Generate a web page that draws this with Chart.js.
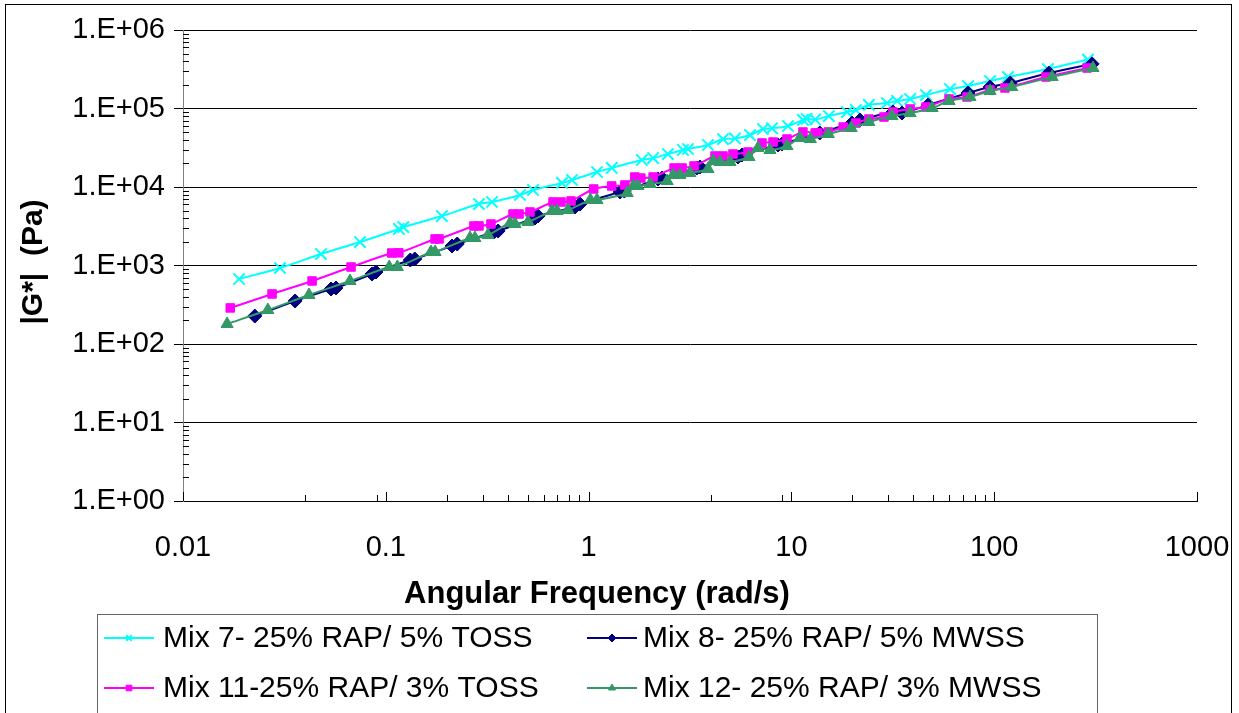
<!DOCTYPE html>
<html>
<head>
<meta charset="utf-8">
<script src="https://cdn.jsdelivr.net/npm/chart.js@4.4.0/dist/chart.umd.min.js"></script>
<style>
  html, body { margin: 0; padding: 0; background: #fff; }
  #wrap { position: relative; width: 1239px; height: 713px; overflow: hidden; }
  #frame { position: absolute; left: 5px; top: 4px; width: 1225px; height: 730px; border: 1px solid #000; }
  #c { position: absolute; left: 0; top: 0; }
</style>
</head>
<body>
<div id="wrap">
  <div id="frame"></div>
  <canvas id="c" width="1239" height="713"></canvas>
</div>
<script>
/* === DATA === */
const seriesNames = [
  "Mix 7- 25% RAP/ 5% TOSS",
  "Mix 8- 25% RAP/ 5% MWSS",
  "Mix 11-25% RAP/ 3% TOSS",
  "Mix 12- 25% RAP/ 3% MWSS"
];

const freq7 = [0.0189, 0.0301, 0.0479, 0.0746, 0.116, 0.122, 0.189, 0.288, 0.334, 0.459, 0.532, 0.739, 0.828,
  1.10, 1.30, 1.83, 2.08, 2.46, 2.92, 3.09, 3.88, 4.60, 5.27, 6.25, 7.24, 8.02, 9.62,
  11.4, 11.9, 13.1, 15.3, 18.8, 20.8, 24.1, 29.6, 33.2, 38.5, 46.1, 60.5, 74.3, 95.4, 117, 184, 290];
const g7 = [673, 929, 1400, 1990, 2920, 3090, 4270, 6070, 6440, 7910, 9160, 11250, 12280,
  15530, 17470, 22080, 23400, 26310, 29600, 30480, 34270, 40860, 41500, 45940, 54810, 56000, 59840,
  71400, 73500, 72500, 80200, 90200, 95700, 110900, 117500, 124700, 132100, 148500, 177100, 193500, 224100, 251800, 318600, 420000];

const freq8 = [0.0226, 0.0357, 0.0537, 0.0568, 0.0855, 0.0895, 0.132, 0.139, 0.212, 0.225, 0.342, 0.358, 0.544, 0.563,
  0.857, 0.907, 1.43, 1.50, 2.20, 2.30, 3.42, 3.54, 5.45, 5.71, 8.59, 8.99,
  13.8, 19.9, 21.8, 31.7, 35.1, 47.2, 74.3, 95.4, 120, 186, 304];
const g8 = [227, 353, 502, 517, 779, 826, 1175, 1210, 1771, 1878, 2672, 2752, 4028, 4273,
  5560, 6070, 8630, 8890, 12650, 13020, 17470, 17990, 24100, 25560, 34270, 35290,
  48800, 65300, 71400, 90200, 87500, 110900, 157500, 187800, 211300, 283300, 370000];

const freq11 = [0.0171, 0.0275, 0.0433, 0.0674, 0.107, 0.116, 0.175, 0.183, 0.272, 0.288, 0.330, 0.424, 0.454, 0.514,
  0.668, 0.731, 0.819, 1.06, 1.30, 1.51, 1.69, 1.81, 2.08, 2.64, 2.89, 3.31, 4.20, 4.60, 5.15, 6.11, 7.16, 8.12, 9.51,
  11.4, 13.1, 13.5, 15.2, 18.0, 20.8, 24.1, 28.6, 31.7, 38.5, 46.1, 59.9, 73.5, 95.4, 113, 180, 287];
const g11 = [288, 434, 635, 957, 1443, 1450, 2176, 2180, 3186, 3190, 3378, 4530, 4530, 4805,
  6441, 6441, 6633, 9432, 10300, 10600, 13410, 13000, 13410, 17470, 17470, 18530, 24830, 24830, 26310, 27920, 36360, 37410, 40860,
  50200, 48800, 48800, 50200, 58100, 65300, 73500, 77900, 90200, 98600, 104500, 132100, 140100, 172100, 182500, 251800, 328000];

const freq12 = [0.0165, 0.0262, 0.0418, 0.0666, 0.104, 0.114, 0.167, 0.175, 0.260, 0.275, 0.319, 0.410, 0.434, 0.503,
  0.660, 0.699, 0.791, 1.02, 1.10, 1.55, 1.66, 1.75, 2.01, 2.44, 2.61, 2.82, 3.16, 3.88, 4.11, 4.45, 4.98,
  6.18, 6.84, 7.84, 9.51, 11.0, 12.4, 15.2, 19.7, 24.1, 31.3, 38.5, 49.4, 59.9, 76.0, 95.4, 122, 193, 307];
const g12 = [180, 271, 421, 635, 957, 957, 1486, 1486, 2240, 2240, 2446, 3478, 3378, 3583,
  4947, 4947, 5095, 6830, 6830, 8390, 10300, 10300, 10920, 11920, 14220, 14220, 15060, 16950, 21430, 20800, 20800,
  24100, 31400, 29600, 33240, 42100, 40860, 47320, 56460, 67300, 80200, 87500, 101500, 124700, 140100, 167000, 187800, 251800, 328000];

const xTicks = [0.01, 0.1, 1, 10, 100, 1000];
const xTickLabels = ["0.01", "0.1", "1", "10", "100", "1000"];
const yTicks = [1, 10, 100, 1000, 10000, 100000, 1000000];
const yTickLabels = ["1.E+00", "1.E+01", "1.E+02", "1.E+03", "1.E+04", "1.E+05", "1.E+06"];

const xTitle = "Angular Frequency (rad/s)";
const yTitle = "|G*|  (Pa)";

/* === HELPERS === */
const FONT = "'Liberation Sans', Arial, sans-serif";

function toPoints(xs, ys) {
  return xs.map((x, i) => ({ x: x, y: ys[i] }));
}

function makeSet(idx, xs, ys, color, style, radius, bw, order) {
  return {
    label: seriesNames[idx],
    data: toPoints(xs, ys),
    showLine: true,
    borderColor: color,
    backgroundColor: color,
    borderWidth: 2,
    tension: 0.3,
    pointStyle: style,
    pointRadius: radius,
    pointHoverRadius: radius,
    pointBorderWidth: bw,
    pointBorderColor: color,
    pointBackgroundColor: color,
    order: order
  };
}

// Mix 7, Mix 8, Mix 11, Mix 12 (legend reads row by row)
const datasets = [
  makeSet(0, freq7, g7, "#00FFFF", "crossRot", 8, 2, 4),
  makeSet(1, freq8, g8, "#000080", "rectRot", 7, 1, 3),
  makeSet(2, freq11, g11, "#FF00FF", "rect", 6, 1, 2),
  makeSet(3, freq12, g12, "#339966", "triangle", 7, 1, 1)
];

/* === EXTRA DRAWING: minor ticks, titles, legend box === */
const decorPlugin = {
  id: "decor",
  beforeDatasetsDraw(chart) {
    const ctx = chart.ctx;
    const xs = chart.scales.x, ys = chart.scales.y;
    const left = chart.chartArea.left, bottom = chart.chartArea.bottom;
    ctx.save();
    ctx.strokeStyle = "#000";
    ctx.lineWidth = 1;
    ctx.beginPath();
    // y minor ticks, inside the plot
    for (let d = 1; d < 1e6; d *= 10) {
      for (let k = 2; k <= 9; k++) {
        const py = Math.round(ys.getPixelForValue(k * d)) + 0.5;
        ctx.moveTo(left, py);
        ctx.lineTo(left + 6, py);
      }
    }
    // x major ticks, inside the plot
    xTicks.forEach(v => {
      const px = Math.round(xs.getPixelForValue(v)) + 0.5;
      ctx.moveTo(px, bottom);
      ctx.lineTo(px, bottom - 9);
    });
    // x minor ticks
    [0.04, 0.09, 0.2, 0.3, 0.4, 0.5, 0.6, 0.7, 0.8, 0.9, 4, 9, 20, 30, 40, 50, 60, 70, 80, 90].forEach(v => {
      const px = Math.round(xs.getPixelForValue(v)) + 0.5;
      ctx.moveTo(px, bottom);
      ctx.lineTo(px, bottom - 6);
    });
    ctx.stroke();
    ctx.restore();
  },
  afterDraw(chart) {
    const ctx = chart.ctx;
    ctx.save();
    ctx.fillStyle = "#000";

    // axis titles
    ctx.font = "bold 31px " + FONT;
    ctx.textAlign = "center";
    ctx.textBaseline = "middle";
    ctx.fillText(xTitle, 597, 594);

    ctx.translate(34, 262);
    ctx.rotate(-Math.PI / 2);
    ctx.font = "bold 30px " + FONT;
    ctx.fillText(yTitle, 0, 0);
    ctx.setTransform(1, 0, 0, 1, 0, 0);

    // legend box
    ctx.strokeStyle = "#666";
    ctx.lineWidth = 1;
    ctx.strokeRect(97.5, 614.5, 1000, 140);

    const slots = [
      { lx: 104, tx: 163, y: 638 },
      { lx: 587, tx: 643, y: 638 },
      { lx: 104, tx: 163, y: 688 },
      { lx: 587, tx: 643, y: 688 }
    ];
    ctx.font = "30px " + FONT;
    ctx.textAlign = "left";
    ctx.textBaseline = "middle";
    datasets.forEach((ds, i) => {
      const s = slots[i];
      ctx.strokeStyle = ds.borderColor;
      ctx.fillStyle = ds.borderColor;
      ctx.lineWidth = 2;
      ctx.beginPath();
      ctx.moveTo(s.lx, s.y);
      ctx.lineTo(s.lx + 50, s.y);
      ctx.stroke();
      ctx.lineWidth = ds.pointBorderWidth;
      Chart.helpers.drawPoint(ctx, { pointStyle: ds.pointStyle, radius: 4, rotation: 0, borderWidth: ds.pointBorderWidth }, s.lx + 25, s.y);
      ctx.fillStyle = "#000";
      ctx.fillText(ds.label, s.tx, s.y + 1);
    });
    ctx.restore();
  }
};

/* === CHART === */
const ctx = document.getElementById("c").getContext("2d");
new Chart(ctx, {
  type: "scatter",
  data: { datasets: datasets },
  options: {
    responsive: false,
    animation: false,
    devicePixelRatio: 1,
    layout: { padding: { left: 0, top: 30, right: 42, bottom: 0 } },
    plugins: {
      legend: { display: false },
      tooltip: { enabled: false }
    },
    scales: {
      x: {
        type: "logarithmic",
        min: 0.01,
        max: 1000,
        afterFit: s => { s.height = 212; s.paddingLeft = 0; s.paddingRight = 0; },
        afterBuildTicks: s => { s.ticks = xTicks.map(v => ({ value: v })); },
        grid: { display: false, drawTicks: false },
        border: { display: true, color: "#000", width: 1 },
        ticks: {
          autoSkip: false,
          maxRotation: 0,
          padding: 30,
          color: "#000",
          font: { family: FONT, size: 29 },
          callback: (v) => {
            const i = xTicks.findIndex(t => Math.abs(t - v) / t < 1e-6);
            return i >= 0 ? xTickLabels[i] : "";
          }
        }
      },
      y: {
        type: "logarithmic",
        min: 1,
        max: 1000000,
        afterFit: s => { s.width = 183; s.paddingTop = 0; s.paddingBottom = 0; },
        afterBuildTicks: s => { s.ticks = yTicks.map(v => ({ value: v })); },
        grid: { color: "#000", lineWidth: 1, drawTicks: true, tickLength: 9 },
        border: { display: true, color: "#808080", width: 1 },
        ticks: {
          autoSkip: false,
          padding: 9,
          color: "#000",
          font: { family: FONT, size: 29 },
          callback: (v) => {
            const i = yTicks.findIndex(t => Math.abs(t - v) / t < 1e-6);
            return i >= 0 ? yTickLabels[i] : "";
          }
        }
      }
    }
  },
  plugins: [decorPlugin]
});
</script>
</body>
</html>
